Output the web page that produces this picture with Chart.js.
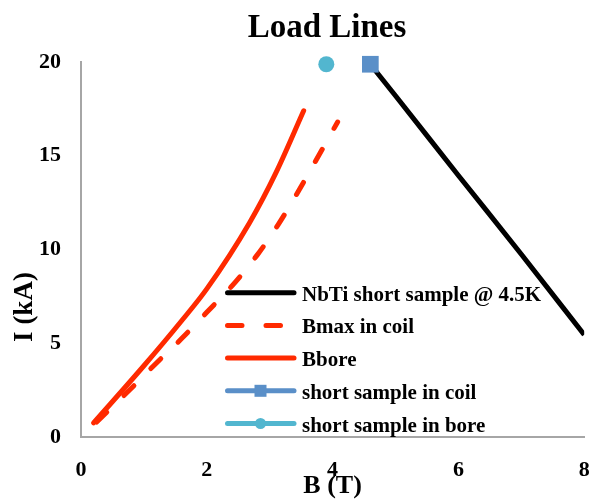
<!DOCTYPE html>
<html>
<head>
<meta charset="utf-8">
<script src="https://cdn.jsdelivr.net/npm/chart.js@4.4.1/dist/chart.umd.min.js"></script>
<style>
  html, body { margin: 0; padding: 0; background: #fff; }
</style>
</head>
<body>
<canvas id="myChart" width="596" height="504"></canvas>
<script>
// tick labels
const xTicks = [0, 2, 4, 6, 8];
const yTicks = [0, 5, 10, 15, 20];

// NbTi short sample @ 4.5K
const nbtiB = [4.6, 5, 6, 7, 8];
const nbtiI = [19.88, 18.2, 13.95, 9.75, 5.45];

// Bmax in coil
const bmaxB = [0.25, 0.8, 1.2, 1.6, 2.0, 2.45, 2.8, 3.13, 3.42, 3.71, 4.08];
const bmaxI = [0.8, 2.6, 3.95, 5.25, 6.65, 8.25, 9.7, 11.3, 12.9, 14.6, 16.8];

// Bbore
const boreB = [0.2, 1.0, 1.6, 2.0, 2.68, 3.1, 3.54];
const boreI = [0.75, 3.8, 6.2, 7.9, 11.43, 14.1, 17.4];

// short sample points
const coilSampleB = [4.6];
const coilSampleI = [19.88];
const boreSampleB = [3.9];
const boreSampleI = [19.88];

const names = ['NbTi short sample @ 4.5K', 'Bmax in coil', 'Bbore', 'short sample in coil', 'short sample in bore'];

const serif = "'Liberation Serif', 'Times New Roman', serif";
const red = '#ff2a00';
const blue = '#5a8fc8';
const aqua = '#52b6cf';

const toPoints = (xs, ys) => xs.map((x, i) => ({ x: x, y: ys[i] }));

const legendItems = [
  { color: '#000', dash: [] },
  { color: red, dash: [14.5, 24] },
  { color: red, dash: [] },
  { color: blue, dash: [], marker: 'rect' },
  { color: aqua, dash: [], marker: 'circle' }
];

const textPlugin = {
  id: 'texts',
  afterDraw(chart) {
    const ctx = chart.ctx;
    ctx.save();
    ctx.fillStyle = '#000';

    // title
    ctx.font = 'bold 33px ' + serif;
    ctx.textAlign = 'center';
    ctx.textBaseline = 'alphabetic';
    ctx.fillText('Load Lines', 327, 37);

    // y axis title
    ctx.save();
    ctx.translate(32, 307);
    ctx.rotate(-Math.PI / 2);
    ctx.font = 'bold 27px ' + serif;
    ctx.fillText('I (kA)', 0, 0);
    ctx.restore();

    // legend
    const lx = 227.5, ly = 292.7, gap = 32.7;
    legendItems.forEach((item, i) => {
      const y = ly + i * gap;
      ctx.strokeStyle = item.color;
      ctx.lineWidth = 5;
      ctx.lineCap = 'round';
      ctx.setLineDash(item.dash);
      ctx.beginPath();
      ctx.moveTo(lx, y);
      ctx.lineTo(lx + 66.5, y);
      ctx.stroke();
      ctx.setLineDash([]);
      ctx.fillStyle = item.color;
      if (item.marker === 'rect') {
        ctx.fillRect(lx + 33 - 6, y - 6, 12, 12);
      } else if (item.marker === 'circle') {
        ctx.beginPath();
        ctx.arc(lx + 33, y, 5.5, 0, Math.PI * 2);
        ctx.fill();
      }
      ctx.fillStyle = '#000';
      ctx.font = 'bold 21px ' + serif;
      ctx.textAlign = 'left';
      ctx.fillText(names[i], 302, y + 8);
    });
    ctx.restore();
  }
};

const ctx = document.getElementById('myChart');

new Chart(ctx, {
  type: 'scatter',
  data: {
    datasets: [
      {
        label: names[3],
        data: toPoints(coilSampleB, coilSampleI),
        pointStyle: 'rect',
        pointRadius: 11.8,
        backgroundColor: blue,
        borderColor: blue,
        borderWidth: 0,
        showLine: false,
        clip: false,
        order: 0
      },
      {
        label: names[4],
        data: toPoints(boreSampleB, boreSampleI),
        pointStyle: 'circle',
        pointRadius: 8,
        backgroundColor: aqua,
        borderColor: aqua,
        borderWidth: 0,
        showLine: false,
        clip: false,
        order: 0
      },
      {
        label: names[0],
        data: toPoints(nbtiB, nbtiI),
        showLine: true,
        borderColor: '#000',
        borderWidth: 5,
        pointRadius: 0,
        cubicInterpolationMode: 'monotone',
        order: 1
      },
      {
        label: names[1],
        data: toPoints(bmaxB, bmaxI),
        showLine: true,
        borderColor: red,
        borderWidth: 5,
        borderDash: [14, 24],
        borderCapStyle: 'round',
        pointRadius: 0,
        cubicInterpolationMode: 'monotone',
        order: 1
      },
      {
        label: names[2],
        data: toPoints(boreB, boreI),
        showLine: true,
        borderColor: red,
        borderWidth: 5,
        borderCapStyle: 'round',
        pointRadius: 0,
        cubicInterpolationMode: 'monotone',
        order: 1
      }
    ]
  },
  options: {
    responsive: false,
    animation: false,
    devicePixelRatio: 1,
    layout: { padding: { top: 62, right: 11, bottom: 0, left: 0 } },
    plugins: {
      legend: { display: false },
      title: { display: false },
      tooltip: { enabled: false }
    },
    scales: {
      x: {
        type: 'linear',
        min: 0,
        max: 8,
        afterBuildTicks: axis => { axis.ticks = xTicks.map(v => ({ value: v })); },
        afterFit: axis => {
          axis.height = 67;
          axis.paddingLeft = 0;
          axis.paddingRight = 0;
        },
        grid: { color: 'transparent', drawTicks: false },
        border: { color: '#a6a6a6', width: 2 },
        ticks: { color: '#000', padding: 20, font: { family: serif, size: 22, weight: 'bold' } },
        title: {
          display: true,
          text: 'B (T)',
          color: '#000',
          padding: { top: 0, bottom: 2 },
          font: { family: serif, size: 26, weight: 'bold' }
        }
      },
      y: {
        type: 'linear',
        min: 0,
        max: 20,
        afterBuildTicks: axis => { axis.ticks = yTicks.map(v => ({ value: v })); },
        afterFit: axis => {
          axis.width = 81;
          axis.paddingTop = 0;
          axis.paddingBottom = 0;
        },
        grid: { color: 'transparent', drawTicks: false },
        border: { color: '#a6a6a6', width: 2 },
        ticks: { color: '#000', padding: 20, font: { family: serif, size: 22, weight: 'bold' } }
      }
    }
  },
  plugins: [textPlugin]
});
</script>
</body>
</html>
